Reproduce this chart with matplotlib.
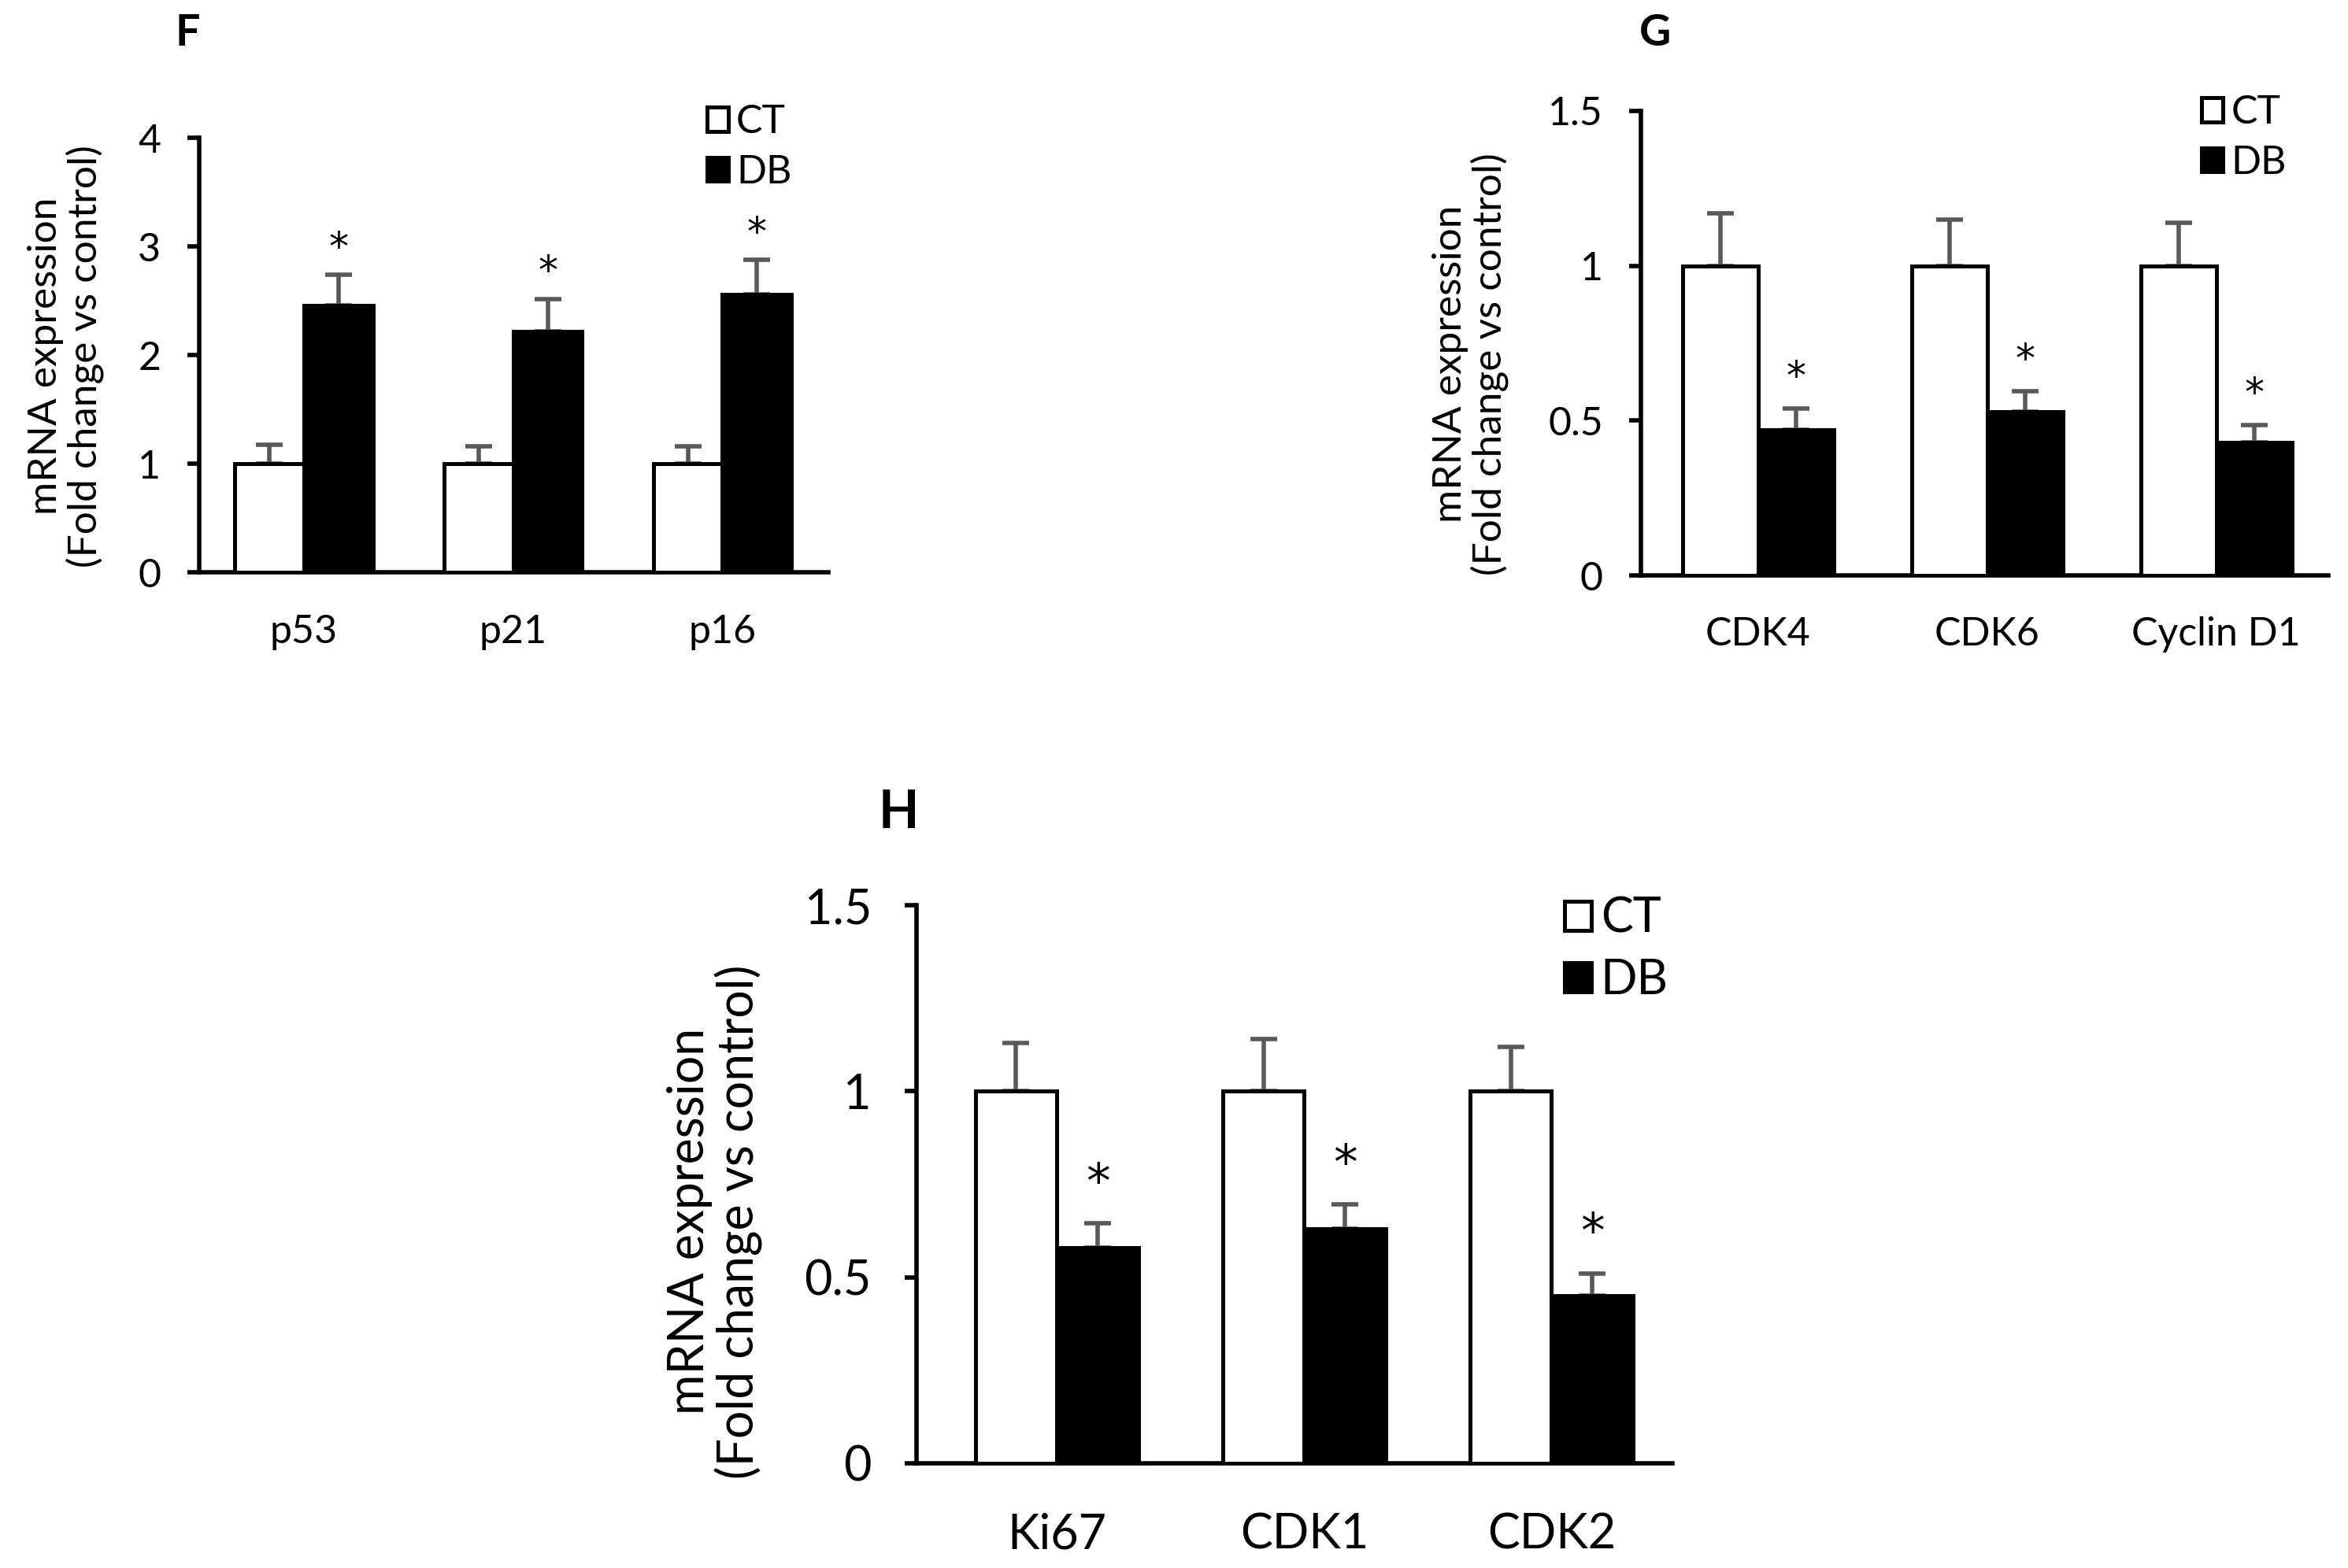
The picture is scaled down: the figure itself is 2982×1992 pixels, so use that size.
import numpy as np
import matplotlib.pyplot as plt

plt.rcParams['font.family'] = ['Lato', 'DejaVu Sans']

# panel F
genes_f = ['p53', 'p21', 'p16']
ct_f = [1.0, 1.0, 1.0]
ct_err_f = [0.18, 0.16, 0.16]
db_f = [2.46, 2.22, 2.56]
db_err_f = [0.28, 0.30, 0.32]
ticks_f = [0, 1, 2, 3, 4]

# panel G
genes_g = ['CDK4', 'CDK6', 'Cyclin D1']
ct_g = [1.0, 1.0, 1.0]
ct_err_g = [0.17, 0.15, 0.14]
db_g = [0.47, 0.53, 0.43]
db_err_g = [0.07, 0.065, 0.055]
ticks_g = [0, 0.5, 1, 1.5]

# panel H
genes_h = ['Ki67', 'CDK1', 'CDK2']
ct_h = [1.0, 1.0, 1.0]
ct_err_h = [0.13, 0.14, 0.12]
db_h = [0.58, 0.63, 0.45]
db_err_h = [0.065, 0.065, 0.06]
ticks_h = [0, 0.5, 1, 1.5]

ylab = 'mRNA expression\n(Fold change vs control)'
ERR_COL = '#595959'


def panel(ax, genes, ct, ct_err, db, db_err, ticks, xlim, fs, star_off, leg_anchor, tickpad, xpad):
    x = np.arange(len(genes))
    w = 0.33
    b1 = ax.bar(x - w / 2, ct, w, color='white', edgecolor='black', linewidth=3.6,
                zorder=3, label='CT')
    b2 = ax.bar(x + w / 2, db, w, color='black', edgecolor='black', linewidth=3.6,
                zorder=3, label='DB')
    ax.errorbar(x - w / 2, ct, yerr=[np.zeros(len(ct)), ct_err], fmt='none',
                ecolor=ERR_COL, elinewidth=4, capsize=12, capthick=4, zorder=1)
    ax.errorbar(x + w / 2, db, yerr=[np.zeros(len(db)), db_err], fmt='none',
                ecolor=ERR_COL, elinewidth=4, capsize=12, capthick=4, zorder=1)
    for xi, v, e in zip(x + w / 2, db, db_err):
        ax.annotate('*', (xi, v + e), xytext=(0, star_off), textcoords='offset points',
                    ha='center', va='center', fontsize=fs, family='DejaVu Sans')
    ax.set_xlim(*xlim)
    ax.set_ylim(ticks[0], ticks[-1])
    ax.set_yticks(ticks)
    ax.set_yticklabels([('%g' % t) for t in ticks])
    ax.set_xticks(x)
    ax.set_xticklabels(genes)
    ax.spines['top'].set_visible(False)
    ax.spines['right'].set_visible(False)
    ax.spines['left'].set_linewidth(4)
    ax.spines['bottom'].set_linewidth(4)
    ax.tick_params(axis='y', direction='out', length=11, width=4, labelsize=fs,
                   pad=tickpad, colors='black')
    ax.tick_params(axis='x', length=0, labelsize=fs, pad=xpad)
    ax.legend(handles=[b1, b2], loc='upper left', bbox_to_anchor=leg_anchor,
              frameon=False, fontsize=fs, handlelength=0.55, handleheight=0.55,
              handletextpad=0.2, labelspacing=0.35, borderpad=0, borderaxespad=0)


fig = plt.figure(figsize=(29.82, 19.92), dpi=100)

ax_f = fig.add_axes([0.0848, 0.6348, 0.2679, 0.2772])
panel(ax_f, genes_f, ct_f, ct_err_f, db_f, db_err_f, ticks_f, (-0.5, 2.505),
      36, 24, (0.807, 1.078), 24, 38)

ax_g = fig.add_axes([0.699, 0.6329, 0.2927, 0.2964])
panel(ax_g, genes_g, ct_g, ct_err_g, db_g, db_err_g, ticks_g, (-0.51, 2.49),
      36, 28, (0.815, 1.035), 24, 37)

ax_h = fig.add_axes([0.3903, 0.0669, 0.3221, 0.3557])
panel(ax_h, genes_h, ct_h, ct_err_h, db_h, db_err_h, ticks_h, (-0.568, 2.49),
      44, 36, (0.857, 1.016), 30, 45)

fig.text(0.028, 0.773, ylab, rotation=90, ha='center', va='center', fontsize=37,
         multialignment='center', linespacing=1.05)
fig.text(0.6262, 0.768, ylab, rotation=90, ha='center', va='center', fontsize=37,
         multialignment='center', linespacing=1.05)
fig.text(0.3045, 0.221, ylab, rotation=90, ha='center', va='center', fontsize=45,
         multialignment='center', linespacing=1.05)

fig.text(0.0798, 0.979, 'F', fontsize=40, fontweight='bold', ha='center', va='center')
fig.text(0.705, 0.979, 'G', fontsize=40, fontweight='bold', ha='center', va='center')
fig.text(0.3826, 0.4814, 'H', fontsize=48, fontweight='bold', ha='center', va='center')

fig.savefig('out.png', dpi=100, facecolor='white')
